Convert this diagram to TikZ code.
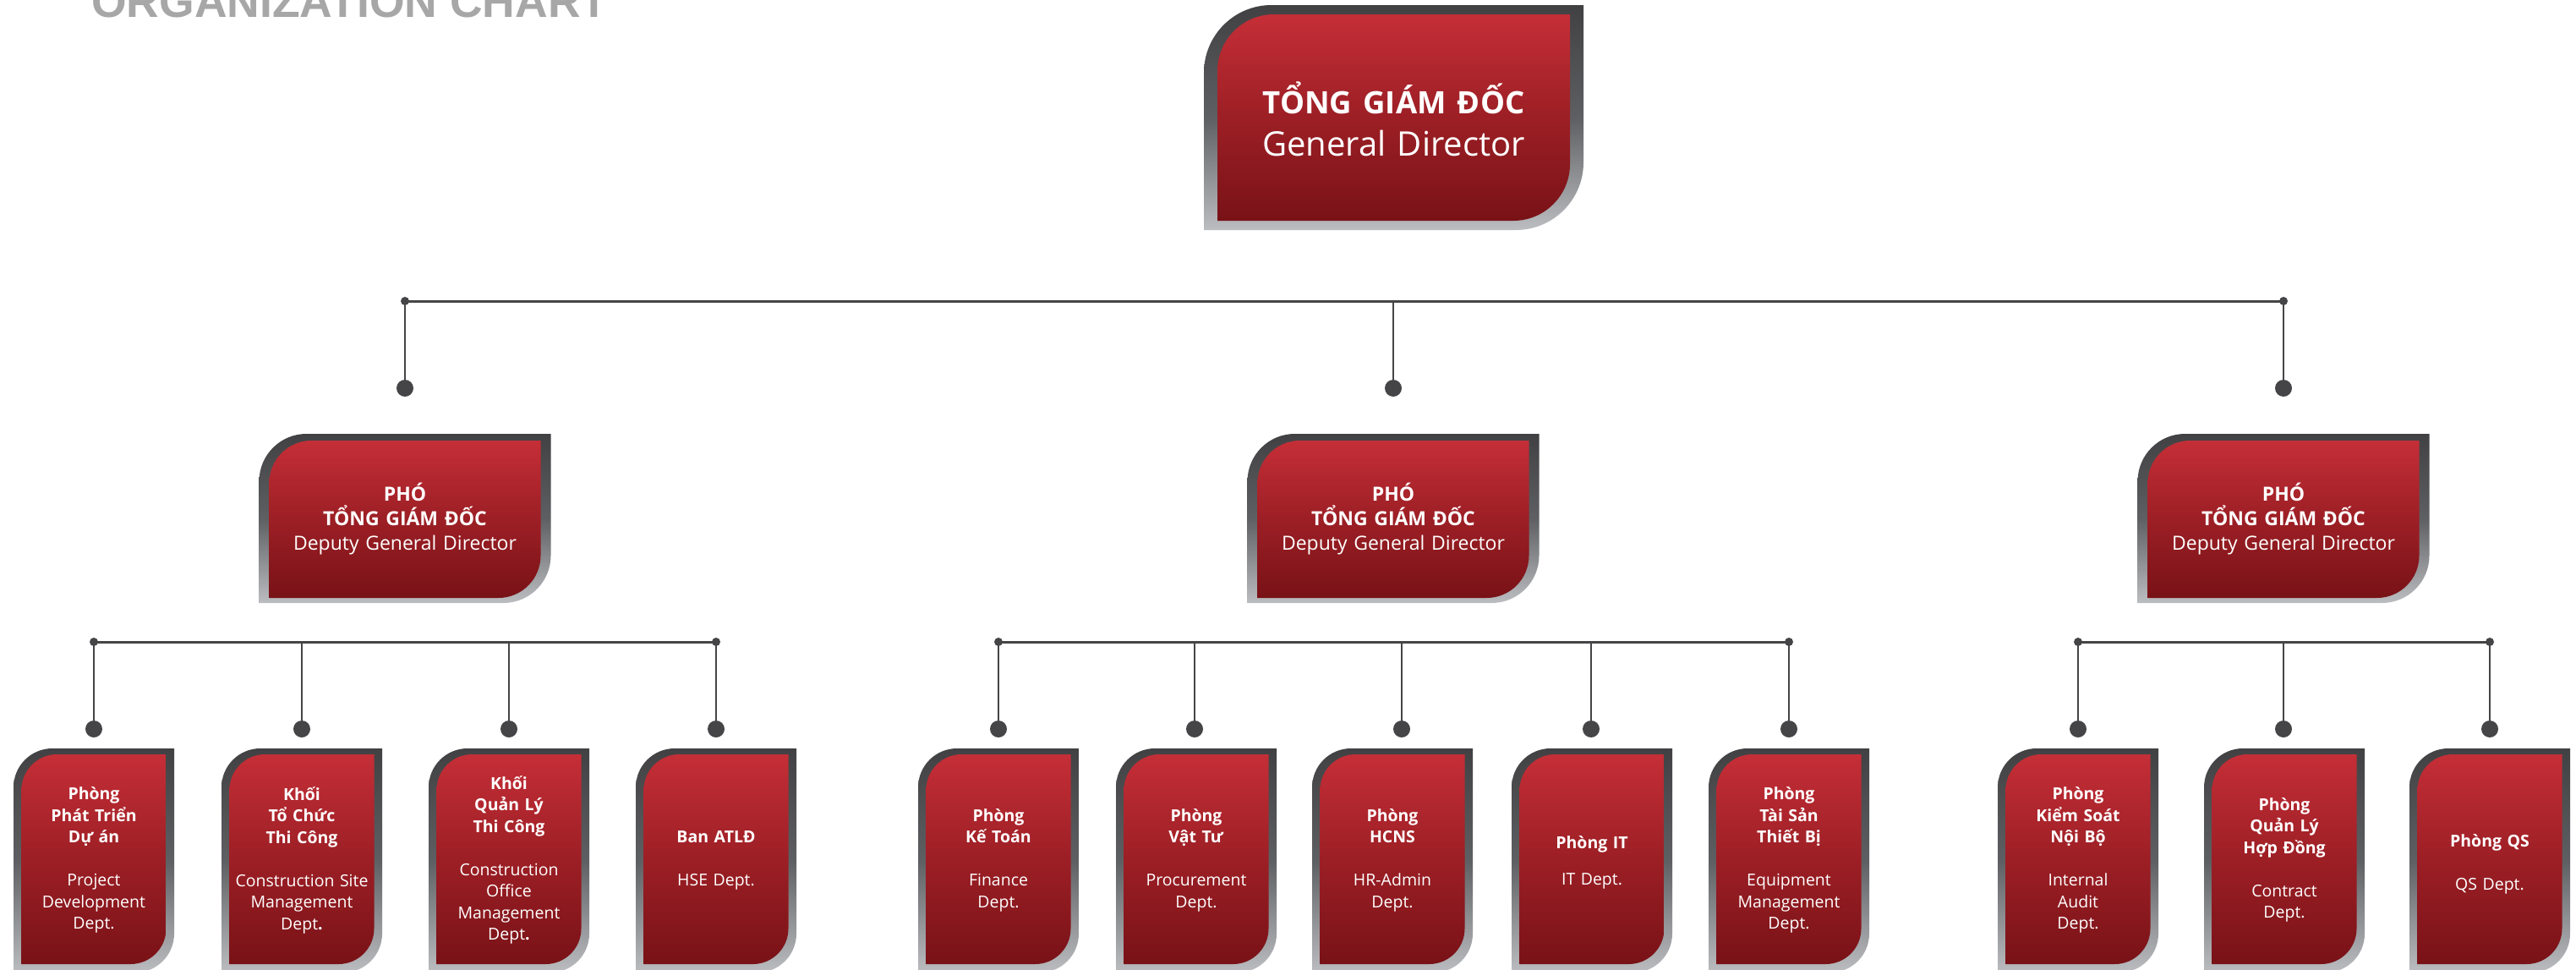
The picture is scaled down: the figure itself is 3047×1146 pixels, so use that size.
\documentclass[tikz,border=0pt]{standalone}
\usepackage{fontspec}
\setmainfont{Open Sans}
\newfontfamily\titlefont{Liberation Sans}
\definecolor{frameTop}{HTML}{414143}
\definecolor{frameMid}{HTML}{5E5F62}
\definecolor{frameBot}{HTML}{BBBDC0}
\definecolor{redTop}{HTML}{C52E37}
\definecolor{redMid}{HTML}{9C1F25}
\definecolor{redBot}{HTML}{781217}
\definecolor{lineGray}{HTML}{454547}
\definecolor{titleGray}{HTML}{A7A7A8}

% #1 style, #2 left, #3 top, #4 right, #5 bottom, #6 corner radius
\newcommand\cardshape[6]{\path[#1] (#2,#5) -- (#2,#3-#6) .. controls (#2,#3-0.4477*#6) and (#2+0.4477*#6,#3) .. (#2+#6,#3) -- (#4,#3) -- (#4,#5+#6) .. controls (#4,#5+0.4477*#6) and (#4-0.4477*#6,#5) .. (#4-#6,#5) -- cycle;}
\newcommand\smallcard[1]{%
  \cardshape{cardframe}{#1-95}{-885}{#1+95}{-1150}{46}
  \cardshape{cardface}{#1-85.5}{-892}{#1+85.5}{-1140}{42}}
\newcommand\depcard[1]{%
  \cardshape{cardframe}{#1-172.5}{-513}{#1+172.5}{-713}{56}
  \cardshape{cardface}{#1-160.5}{-521}{#1+160.5}{-707}{50}}

\tikzset{
  cardframe/.style={top color=frameTop, bottom color=frameBot, middle color=frameMid},
  cardface/.style={top color=redTop, bottom color=redBot, middle color=redMid},
  btxt/.style={text=white, align=center, text width=185pt, inner sep=0pt,
    font=\fontsize{19.5}{25.5}\selectfont},
  dtxt/.style={text=white, align=center, text width=330pt, inner sep=0pt,
    font=\fontsize{23}{29}\selectfont},
  gtxt/.style={text=white, align=center, text width=420pt, inner sep=0pt,
    font=\fontsize{40}{50}\selectfont},
  bar/.style={draw=lineGray, line width=3pt},
  stem/.style={draw=lineGray, line width=2.6pt},
  bigdot/.style={circle, fill=lineGray, minimum size=20pt, inner sep=0pt},
  enddot/.style={circle, fill=lineGray, minimum size=10pt, inner sep=0pt},
}

\begin{document}
\begin{tikzpicture}[x=1pt,y=1pt]
\useasboundingbox (0,0) rectangle (3047,-1146);

% title
\node[anchor=base west, inner sep=0pt, text=titleGray,
  font=\titlefont\bfseries\fontsize{53.5}{60}\selectfont] (title) at (108,-20) {ORGANIZATION CHART};

% general director
\cardshape{cardframe}{1424}{-6}{1873}{-272}{80}
\cardshape{cardface}{1440}{-17}{1857}{-261}{67}
\node[gtxt] (gd) at (1648.5,-141) {{\fontsize{36.5}{50}\selectfont\textbf{TỔNG GIÁM ĐỐC}}\\General Director};

% top bar
\node[enddot] (tL) at (479,-356) {};
\node[enddot] (tR) at (2701,-356) {};
\coordinate (tM) at (1648,-356);
\node[bigdot] (dL) at (479,-459) {};
\node[bigdot] (dM) at (1648,-459) {};
\node[bigdot] (dR) at (2701,-459) {};
\draw[bar] (tL.center) -- (tR.center);
\draw[stem] (tL.center) -- (dL.center);
\draw[stem] (tM) -- (dM.center);
\draw[stem] (tR.center) -- (dR.center);

% deputies
\depcard{479}
\depcard{1648}
\depcard{2701}
\node[dtxt] (dep1) at (479,-614) {\textbf{PHÓ}\\\textbf{TỔNG GIÁM ĐỐC}\\Deputy General Director};
\node[dtxt] (dep2) at (1648,-614) {\textbf{PHÓ}\\\textbf{TỔNG GIÁM ĐỐC}\\Deputy General Director};
\node[dtxt] (dep3) at (2701,-614) {\textbf{PHÓ}\\\textbf{TỔNG GIÁM ĐỐC}\\Deputy General Director};

% second level bars
\foreach \n/\x in {a/111,b/357,c/602,d/847,e/1181,f/1413,g/1658,h/1882,i/2116,j/2458,k/2701,l/2945}{
  \coordinate (j\n) at (\x,-759);
  \node[bigdot] (p\n) at (\x,-862) {};
}
\node[enddot] (ea) at (111,-759) {};
\node[enddot] (ed) at (847,-759) {};
\node[enddot] (ee) at (1181,-759) {};
\node[enddot] (ei) at (2116,-759) {};
\node[enddot] (ej) at (2458,-759) {};
\node[enddot] (el) at (2945,-759) {};
\draw[bar] (ea.center) -- (ed.center);
\draw[bar] (ee.center) -- (ei.center);
\draw[bar] (ej.center) -- (el.center);
\foreach \n in {a,b,c,d,e,f,g,h,i,j,k,l}{
  \draw[stem] (j\n) -- (p\n.center);
}

% departments
\foreach \x in {111,357,602,847,1181,1415,1647,1883,2116,2458,2702,2945}{
  \smallcard{\x}
}
\node[btxt] (b1) at (111,-1017) {\textbf{Phòng}\\\textbf{Phát Triển}\\\textbf{Dự án}\\[25.5pt]Project\\Development\\Dept.};
\node[btxt] (b2) at (357,-1017) {\textbf{Khối}\\\textbf{Tổ Chức}\\\textbf{Thi Công}\\[25.5pt]Construction Site\\Management\\Dept\textbf{.}};
\node[btxt] (b3) at (602,-1017) {\textbf{Khối}\\\textbf{Quản Lý}\\\textbf{Thi Công}\\[25.5pt]Construction\\Office\\Management\\Dept\textbf{.}};
\node[btxt] (b4) at (847,-1017) {\textbf{Ban ATLĐ}\\[25.5pt]HSE Dept.};
\node[btxt] (b5) at (1181,-1017) {\textbf{Phòng}\\\textbf{Kế Toán}\\[25.5pt]Finance\\Dept.};
\node[btxt] (b6) at (1415,-1017) {\textbf{Phòng}\\\textbf{Vật Tư}\\[25.5pt]Procurement\\Dept.};
\node[btxt] (b7) at (1647,-1017) {\textbf{Phòng}\\\textbf{HCNS}\\[25.5pt]HR-Admin\\Dept.};
\node[btxt] (b8) at (1883,-1020) {\textbf{Phòng IT}\\[18pt]IT Dept.};
\node[btxt] (b9) at (2116,-1017) {\textbf{Phòng}\\\textbf{Tài Sản}\\\textbf{Thiết Bị}\\[25.5pt]Equipment\\Management\\Dept.};
\node[btxt] (b10) at (2458,-1017) {\textbf{Phòng}\\\textbf{Kiểm Soát}\\\textbf{Nội Bộ}\\[25.5pt]Internal\\Audit\\Dept.};
\node[btxt] (b11) at (2702,-1017) {\textbf{Phòng}\\\textbf{Quản Lý}\\\textbf{Hợp Đồng}\\[25.5pt]Contract\\Dept.};
\node[btxt] (b12) at (2945,-1022) {\textbf{Phòng QS}\\[25.5pt]QS Dept.};
\end{tikzpicture}
\end{document}
